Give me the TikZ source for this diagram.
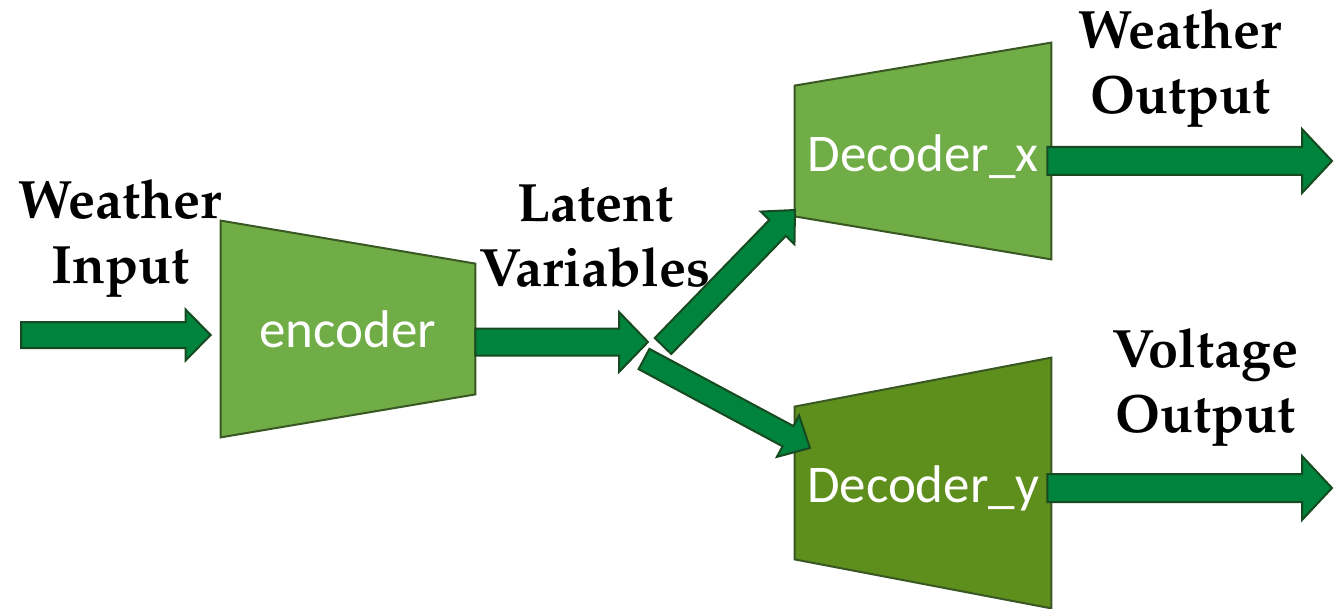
\documentclass[tikz,border=0pt]{standalone}
\usepackage[T1]{fontenc}
\usepackage{fontspec}
\newfontfamily\calibri{Carlito}
\newcommand{\palbold}{\fontencoding{T1}\fontfamily{ppl}\fontseries{b}\selectfont}
\usetikzlibrary{calc,backgrounds}
\definecolor{encgreen}{HTML}{70AD47}
\definecolor{decgreen}{HTML}{5E8E1C}
\definecolor{edgegreen}{HTML}{385723}
\definecolor{arrowgreen}{HTML}{00833D}
\definecolor{arrowedge}{HTML}{174A20}
\tikzset{
  shaftw/.store in=\shaftw, headw/.store in=\headw, headl/.store in=\headl,
  shaftw=6.5pt, headw=13pt, headl=13pt,
  blk/.style={draw=arrowedge,fill=arrowgreen,line width=1pt,line join=miter,
    to path={let \p1=(\tikztostart), \p2=(\tikztotarget),
      \n1={atan2(\y2-\y1,\x2-\x1)} in
      ($(\p1)+(\n1+90:\shaftw)$) -- ($(\p2)+(\n1:-\headl)+(\n1+90:\shaftw)$)
      -- ($(\p2)+(\n1:-\headl)+(\n1+90:\headw)$) -- (\p2)
      -- ($(\p2)+(\n1:-\headl)+(\n1-90:\headw)$)
      -- ($(\p2)+(\n1:-\headl)+(\n1-90:\shaftw)$)
      -- ($(\p1)+(\n1-90:\shaftw)$) -- cycle}},           % block arrow
  unit/.style={inner sep=0pt,text=white,text depth=0pt,
    font=\calibri\fontsize{26.5}{31}\selectfont},
  trapbox/.style={draw=edgegreen,line width=1pt},
  lbl/.style={align=center,font=\palbold\fontsize{27}{32.5}\selectfont},
}
\begin{document}
\begin{tikzpicture}[x=0.5pt,y=-0.5pt]
  \useasboundingbox (0,0) rectangle (1337,609);
  % the three blocks
  \node[unit,text height=18pt,minimum width=127pt,minimum height=108pt] (enc) at (348,329) {encoder};
  \node[unit,text height=21pt,minimum width=128pt,minimum height=108pt] (decx) at (923,151) {Decoder\_x};
  \node[unit,text height=19pt,minimum width=128pt,minimum height=125pt] (decy) at (923,483) {Decoder\_y};
  \begin{scope}[on background layer]
    \draw[trapbox,fill=encgreen] (enc.north west) -- ([yshift=-21.5pt]enc.north east)
      -- ([yshift=21.5pt]enc.south east) -- (enc.south west) -- cycle;
    \draw[trapbox,fill=encgreen] ([yshift=-21.5pt]decx.north west) -- (decx.north east)
      -- (decx.south east) -- ([yshift=21.5pt]decx.south west) -- cycle;
    \draw[trapbox,fill=decgreen] ([yshift=-24.5pt]decy.north west) -- (decy.north east)
      -- (decy.south east) -- ([yshift=24.5pt]decy.south west) -- cycle;
  \end{scope}
  % labels
  \node[lbl] (win) at (120,238) {Weather\\Input};
  \node[lbl] (lat) at (595,236) {Latent\\Variables};
  \node[lbl] (wout) at (1180,68) {Weather\\Output};
  \node[lbl] (vout) at (1205,387) {Voltage\\Output};
  % arrow ends
  \coordinate (inTail) at (21,335);
  \coordinate (inTip) at ($(enc.west)+(-10,6)$);
  \coordinate (encOut) at ($(enc.east)+(0,13)$);
  \coordinate (split) at (648,342);
  \coordinate (upTail) at (663,346);
  \coordinate (upTip) at (795,210);
  \coordinate (loTail) at (644,359);
  \coordinate (loTip) at (810,448);
  \coordinate (xOut) at ($(decx.east)+(-4,10)$);
  \coordinate (xTip) at (1332,161);
  \coordinate (yOut) at ($(decy.east)+(-4,5)$);
  \coordinate (yTip) at (1332,488);
  % connectors
  \draw[blk,shaftw=6.5pt,headw=12.75pt,headl=12.5pt] (inTail) to (inTip);
  \draw[blk,shaftw=6.75pt,headw=15pt,headl=14.5pt] (encOut) to (split);
  \draw[blk,shaftw=5.75pt,headw=11.75pt,headl=12.5pt] (upTail) to (upTip);
  \draw[blk,shaftw=5.75pt,headw=11.75pt,headl=12.5pt] (loTail) to (loTip);
  \draw[blk,shaftw=7pt,headw=16pt,headl=15pt] (xOut) to (xTip);
  \draw[blk,shaftw=7pt,headw=16pt,headl=15pt] (yOut) to (yTip);
\end{tikzpicture}
\end{document}
